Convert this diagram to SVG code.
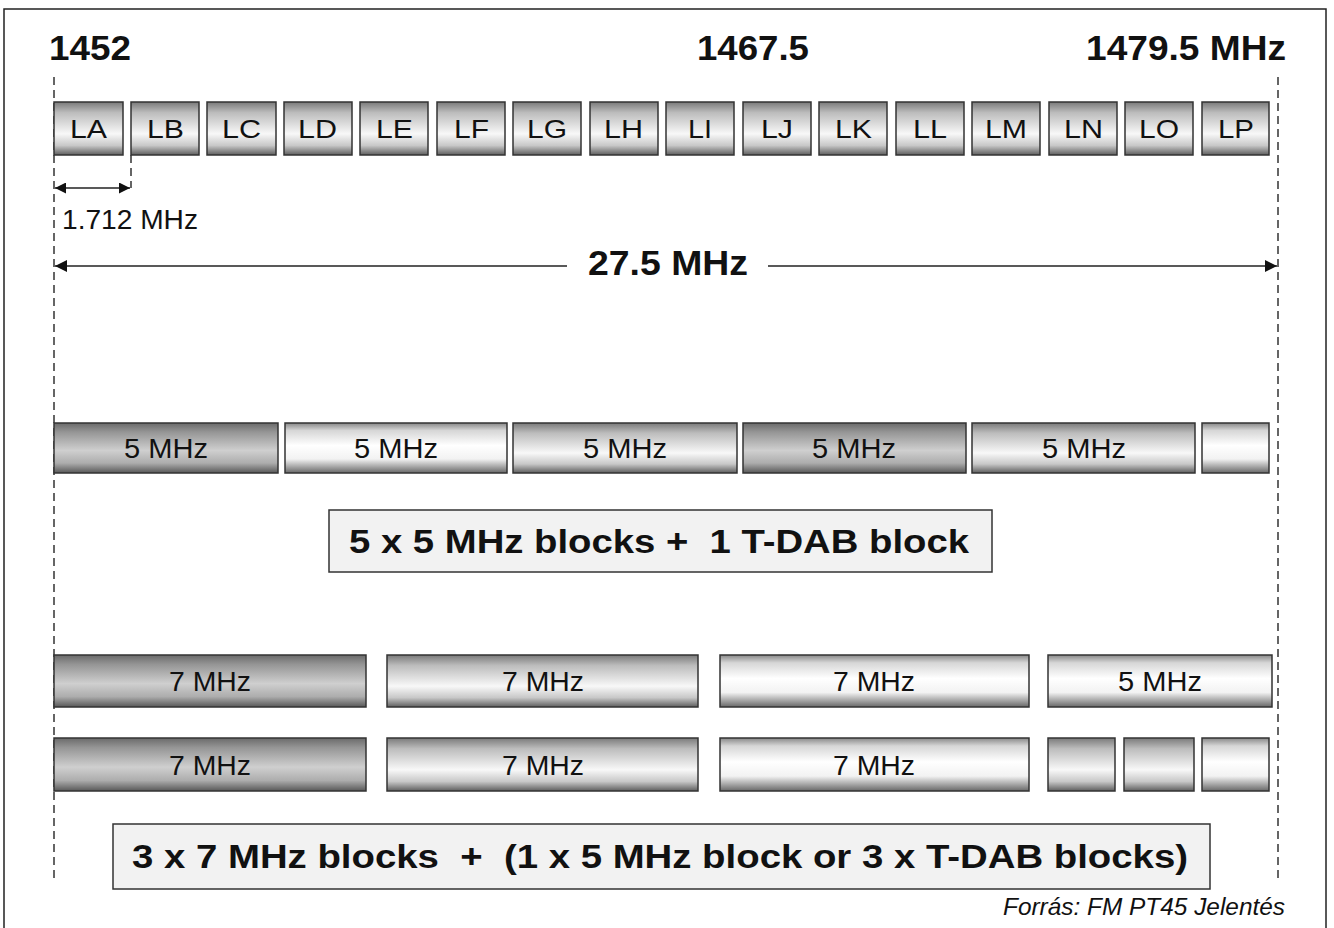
<svg xmlns="http://www.w3.org/2000/svg" width="1334" height="928" viewBox="0 0 1334 928">
<defs>
<linearGradient id="gDark" x1="0" y1="0" x2="0" y2="1">
<stop offset="0" stop-color="#6a6a6a"/><stop offset="0.18" stop-color="#959595"/><stop offset="0.55" stop-color="#cfcfcf"/><stop offset="0.8" stop-color="#adadad"/><stop offset="1" stop-color="#585858"/>
</linearGradient>
<linearGradient id="gMed" x1="0" y1="0" x2="0" y2="1">
<stop offset="0" stop-color="#7a7a7a"/><stop offset="0.2" stop-color="#bcbcbc"/><stop offset="0.6" stop-color="#f8f8f8"/><stop offset="0.82" stop-color="#c8c8c8"/><stop offset="1" stop-color="#5e5e5e"/>
</linearGradient>
<linearGradient id="gLight" x1="0" y1="0" x2="0" y2="1">
<stop offset="0" stop-color="#888888"/><stop offset="0.15" stop-color="#d6d6d6"/><stop offset="0.45" stop-color="#ffffff"/><stop offset="0.72" stop-color="#f2f2f2"/><stop offset="1" stop-color="#686868"/>
</linearGradient>
<marker id="ah" viewBox="0 0 10 10" refX="10" refY="5" markerWidth="16" markerHeight="12" markerUnits="userSpaceOnUse" orient="auto-start-reverse">
<path d="M0,0 L10,5 L0,10 Z" fill="#111"/>
</marker>
<marker id="ahBig" viewBox="0 0 10 10" refX="10" refY="5" markerWidth="14" markerHeight="11" markerUnits="userSpaceOnUse" orient="auto-start-reverse">
<path d="M0,0 L10,5 L0,10 Z" fill="#111"/>
</marker>
</defs>
<style>
.blk{stroke:#333;stroke-width:1.5}
.dk{fill:url(#gDark)}
.md{fill:url(#gMed)}
.lt{fill:url(#gLight)}
.lbl{font-family:"Liberation Sans",Arial,sans-serif;font-size:26px;fill:#111;text-anchor:start}
.mhz{font-family:"Liberation Sans",Arial,sans-serif;font-size:27px;fill:#111}
.hdr{font-family:"Liberation Sans",Arial,sans-serif;font-size:35px;font-weight:bold;fill:#111}
.big{font-family:"Liberation Sans",Arial,sans-serif;font-size:34px;font-weight:bold;fill:#111;white-space:pre}
.box{fill:#f2f2f2;stroke:#333;stroke-width:1.5}
.dash{stroke:#333;stroke-width:1.5;stroke-dasharray:8,5;fill:none}
.arr{stroke:#222;stroke-width:1.5;fill:none}
</style>
<rect x="4" y="9" width="1322" height="930" fill="#fff" stroke="#222" stroke-width="1.5"/>

<g id="freq-labels">
<text class="hdr" x="49" y="60" textLength="82" lengthAdjust="spacingAndGlyphs">1452</text>
<text class="hdr" x="697" y="60" textLength="112" lengthAdjust="spacingAndGlyphs">1467.5</text>
<text class="hdr" x="1086" y="60" textLength="200" lengthAdjust="spacingAndGlyphs">1479.5 MHz</text>
</g>

<g id="connectors">
<line class="dash" x1="54" y1="77" x2="54" y2="879"/>
<line class="dash" x1="1278" y1="77" x2="1278" y2="879"/>
<line class="dash" x1="131" y1="155" x2="131" y2="188"/>
<line class="arr" x1="55" y1="188" x2="130" y2="188" marker-start="url(#ahBig)" marker-end="url(#ahBig)"/>
<line class="arr" x1="55" y1="266" x2="567" y2="266" marker-start="url(#ah)"/>
<line class="arr" x1="768" y1="266" x2="1277" y2="266" marker-end="url(#ah)"/>
</g>

<g id="span-labels">
<text class="mhz" x="62" y="229" textLength="136" lengthAdjust="spacingAndGlyphs">1.712 MHz</text>
<text class="hdr" x="588" y="275" textLength="160" lengthAdjust="spacingAndGlyphs">27.5 MHz</text>
</g>

<g id="tdab-channels">
<g id="LA"><rect class="blk md" x="54" y="102" width="69" height="53"/><text class="lbl" x="70" y="138" textLength="37" lengthAdjust="spacingAndGlyphs">LA</text></g>
<g id="LB"><rect class="blk md" x="131" y="102" width="68" height="53"/><text class="lbl" x="147" y="138" textLength="37" lengthAdjust="spacingAndGlyphs">LB</text></g>
<g id="LC"><rect class="blk md" x="207" y="102" width="69" height="53"/><text class="lbl" x="222" y="138" textLength="39" lengthAdjust="spacingAndGlyphs">LC</text></g>
<g id="LD"><rect class="blk md" x="284" y="102" width="68" height="53"/><text class="lbl" x="298" y="138" textLength="39" lengthAdjust="spacingAndGlyphs">LD</text></g>
<g id="LE"><rect class="blk md" x="360" y="102" width="68" height="53"/><text class="lbl" x="376" y="138" textLength="37" lengthAdjust="spacingAndGlyphs">LE</text></g>
<g id="LF"><rect class="blk md" x="437" y="102" width="68" height="53"/><text class="lbl" x="454" y="138" textLength="35" lengthAdjust="spacingAndGlyphs">LF</text></g>
<g id="LG"><rect class="blk md" x="513" y="102" width="68" height="53"/><text class="lbl" x="527" y="138" textLength="40" lengthAdjust="spacingAndGlyphs">LG</text></g>
<g id="LH"><rect class="blk md" x="590" y="102" width="68" height="53"/><text class="lbl" x="604" y="138" textLength="39" lengthAdjust="spacingAndGlyphs">LH</text></g>
<g id="LI"><rect class="blk md" x="666" y="102" width="68" height="53"/><text class="lbl" x="688" y="138" textLength="24" lengthAdjust="spacingAndGlyphs">LI</text></g>
<g id="LJ"><rect class="blk md" x="743" y="102" width="68" height="53"/><text class="lbl" x="761" y="138" textLength="32" lengthAdjust="spacingAndGlyphs">LJ</text></g>
<g id="LK"><rect class="blk md" x="819" y="102" width="68" height="53"/><text class="lbl" x="835" y="138" textLength="37" lengthAdjust="spacingAndGlyphs">LK</text></g>
<g id="LL"><rect class="blk md" x="896" y="102" width="68" height="53"/><text class="lbl" x="913" y="138" textLength="34" lengthAdjust="spacingAndGlyphs">LL</text></g>
<g id="LM"><rect class="blk md" x="972" y="102" width="68" height="53"/><text class="lbl" x="985" y="138" textLength="42" lengthAdjust="spacingAndGlyphs">LM</text></g>
<g id="LN"><rect class="blk md" x="1049" y="102" width="68" height="53"/><text class="lbl" x="1064" y="138" textLength="39" lengthAdjust="spacingAndGlyphs">LN</text></g>
<g id="LO"><rect class="blk md" x="1125" y="102" width="68" height="53"/><text class="lbl" x="1139" y="138" textLength="40" lengthAdjust="spacingAndGlyphs">LO</text></g>
<g id="LP"><rect class="blk md" x="1202" y="102" width="67" height="53"/><text class="lbl" x="1218" y="138" textLength="36" lengthAdjust="spacingAndGlyphs">LP</text></g>
</g>

<g id="row-5mhz">
<g id="r1b1"><rect class="blk dk" x="54" y="423" width="224" height="50"/><text class="mhz" x="166" y="458" text-anchor="middle" textLength="84" lengthAdjust="spacingAndGlyphs">5 MHz</text></g>
<g id="r1b2"><rect class="blk lt" x="285" y="423" width="222" height="50"/><text class="mhz" x="396" y="458" text-anchor="middle" textLength="84" lengthAdjust="spacingAndGlyphs">5 MHz</text></g>
<g id="r1b3"><rect class="blk md" x="513" y="423" width="224" height="50"/><text class="mhz" x="625" y="458" text-anchor="middle" textLength="84" lengthAdjust="spacingAndGlyphs">5 MHz</text></g>
<g id="r1b4"><rect class="blk dk" x="743" y="423" width="223" height="50"/><text class="mhz" x="854" y="458" text-anchor="middle" textLength="84" lengthAdjust="spacingAndGlyphs">5 MHz</text></g>
<g id="r1b5"><rect class="blk md" x="972" y="423" width="223" height="50"/><text class="mhz" x="1084" y="458" text-anchor="middle" textLength="84" lengthAdjust="spacingAndGlyphs">5 MHz</text></g>
<g id="r1b6"><rect class="blk lt" x="1202" y="423" width="67" height="50"/></g>
</g>

<g id="caption-1">
<rect class="box" x="329" y="510" width="663" height="62"/>
<text class="big" xml:space="preserve" x="349" y="553" textLength="620" lengthAdjust="spacingAndGlyphs">5 x 5 MHz blocks +  1 T-DAB block</text>
</g>

<g id="row-7mhz-a">
<g id="r2b1"><rect class="blk dk" x="54" y="655" width="312" height="52"/><text class="mhz" x="210" y="691" text-anchor="middle" textLength="82" lengthAdjust="spacingAndGlyphs">7 MHz</text></g>
<g id="r2b2"><rect class="blk md" x="387" y="655" width="311" height="52"/><text class="mhz" x="543" y="691" text-anchor="middle" textLength="82" lengthAdjust="spacingAndGlyphs">7 MHz</text></g>
<g id="r2b3"><rect class="blk lt" x="720" y="655" width="309" height="52"/><text class="mhz" x="874" y="691" text-anchor="middle" textLength="82" lengthAdjust="spacingAndGlyphs">7 MHz</text></g>
<g id="r2b4"><rect class="blk lt" x="1048" y="655" width="224" height="52"/><text class="mhz" x="1160" y="691" text-anchor="middle" textLength="84" lengthAdjust="spacingAndGlyphs">5 MHz</text></g>
</g>

<g id="row-7mhz-b">
<g id="r3b1"><rect class="blk dk" x="54" y="738" width="312" height="53"/><text class="mhz" x="210" y="775" text-anchor="middle" textLength="82" lengthAdjust="spacingAndGlyphs">7 MHz</text></g>
<g id="r3b2"><rect class="blk md" x="387" y="738" width="311" height="53"/><text class="mhz" x="543" y="775" text-anchor="middle" textLength="82" lengthAdjust="spacingAndGlyphs">7 MHz</text></g>
<g id="r3b3"><rect class="blk lt" x="720" y="738" width="309" height="53"/><text class="mhz" x="874" y="775" text-anchor="middle" textLength="82" lengthAdjust="spacingAndGlyphs">7 MHz</text></g>
<g id="r3b4"><rect class="blk md" x="1048" y="738" width="67" height="53"/></g>
<g id="r3b5"><rect class="blk md" x="1124" y="738" width="70" height="53"/></g>
<g id="r3b6"><rect class="blk lt" x="1202" y="738" width="67" height="53"/></g>
</g>

<g id="caption-2">
<rect class="box" x="113" y="824" width="1097" height="65"/>
<text class="big" xml:space="preserve" x="132" y="868" textLength="1056" lengthAdjust="spacingAndGlyphs">3 x 7 MHz blocks  +  (1 x 5 MHz block or 3 x T-DAB blocks)</text>
</g>

<g id="source">
<text x="1003" y="915" font-family="'Liberation Sans',Arial,sans-serif" font-size="24" font-style="italic" fill="#111" textLength="282" lengthAdjust="spacingAndGlyphs">Forrás: FM PT45 Jelentés</text>
</g>
</svg>
